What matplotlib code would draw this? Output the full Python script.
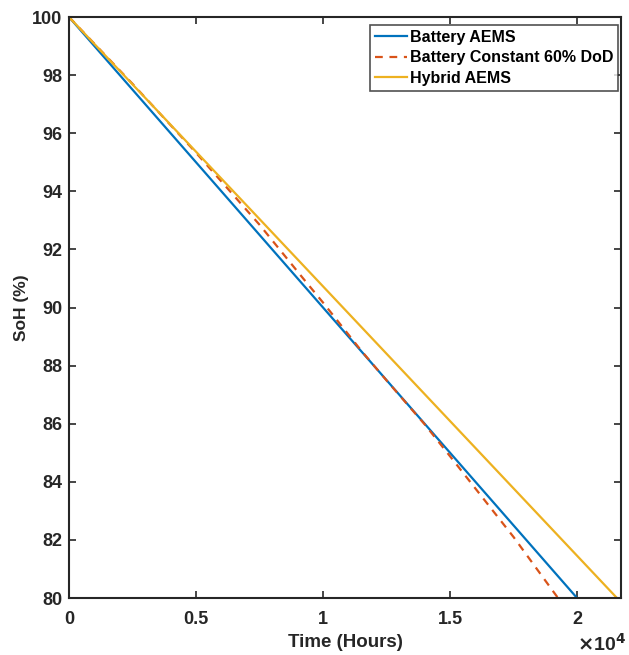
import matplotlib.pyplot as plt

plt.rcParams["font.family"] = ["Liberation Sans", "DejaVu Sans"]
plt.rcParams["font.weight"] = "bold"

# Battery AEMS (linear fade)
aems_t = [0, 20000]
aems_soh = [100, 80]

# Battery constant 60% DoD (curved)
const_t = [0, 2500, 5000, 7500, 9200, 10000, 11500, 12500, 14000, 15000, 17500, 19250]
const_soh = [100, 97.70, 95.33, 92.85, 91.02, 90.17, 88.52, 87.49, 85.98, 84.88, 82.10, 80.0]

# Hybrid AEMS
hyb_t = [0, 21570]
hyb_soh = [100, 80]

BLUE = (0, 0.447, 0.741)
ORANGE = (0.85, 0.325, 0.098)
YELLOW = (0.929, 0.694, 0.125)
DARK = "#262626"

fig = plt.figure(figsize=(6.29, 6.55), dpi=100)
ax = fig.add_axes([0.1097, 0.087, 0.8776, 0.887])

ax.plot(aems_t, aems_soh, color=BLUE, lw=1.6, label="Battery AEMS")
ax.plot(const_t, const_soh, color=ORANGE, lw=1.6, ls=(0, (3.5, 3)), label="Battery Constant 60% DoD")
ax.plot(hyb_t, hyb_soh, color=YELLOW, lw=1.6, label="Hybrid AEMS")

ax.set_xlim(0, 21730)
ax.set_ylim(80, 100)
ax.set_xticks([0, 5000, 10000, 15000, 20000])
ax.set_xticklabels(["0", "0.5", "1", "1.5", "2"])
ax.set_yticks(range(80, 101, 2))

ax.tick_params(direction="in", top=True, right=True, length=5, width=1.2,
               labelsize=13, colors=DARK)
ax.tick_params(axis="x", pad=9)
ax.tick_params(axis="y", pad=5)
for lab in ax.get_xticklabels() + ax.get_yticklabels():
    lab.set_fontweight("bold")
for s in ax.spines.values():
    s.set_linewidth(1.5)
    s.set_color(DARK)

ax.set_xlabel("Time (Hours)", fontsize=13.5, fontweight="bold", color=DARK, labelpad=5)
ax.set_ylabel("SoH (%)", fontsize=12.5, fontweight="bold", color=DARK, labelpad=2)
ax.text(1.01, -0.06, r"$\times$10$^{4}$", transform=ax.transAxes, ha="right", va="top",
        fontsize=14, fontweight="bold", color=DARK)

leg = ax.legend(loc="upper right", bbox_to_anchor=(0.9946, 0.9862), fontsize=11.5,
                frameon=True, fancybox=False, edgecolor=DARK, handlelength=2.0,
                handletextpad=0.2, borderpad=0.3, labelspacing=0.35, borderaxespad=0)
leg.get_frame().set_linewidth(1.2)
for t in leg.get_texts():
    t.set_fontweight("bold")

fig.savefig("out.png", dpi=100)
